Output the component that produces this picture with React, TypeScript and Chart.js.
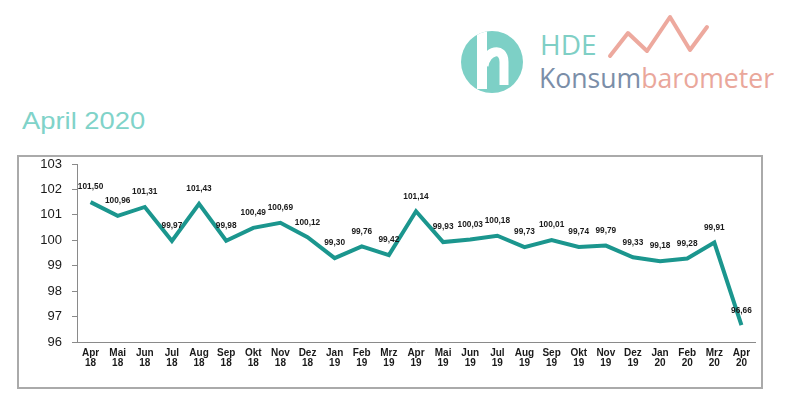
import React, { useEffect, useRef } from "react";
import { Chart, registerables } from "chart.js";

Chart.register(...registerables);

const months = ["Apr", "Mai", "Jun", "Jul", "Aug", "Sep", "Okt", "Nov", "Dez", "Jan", "Feb", "Mrz", "Apr", "Mai", "Jun", "Jul", "Aug", "Sep", "Okt", "Nov", "Dez", "Jan", "Feb", "Mrz", "Apr"];
const years = ["18", "18", "18", "18", "18", "18", "18", "18", "18", "19", "19", "19", "19", "19", "19", "19", "19", "19", "19", "19", "19", "20", "20", "20", "20"];
const values = [101.5, 100.96, 101.31, 99.97, 101.43, 99.98, 100.49, 100.69, 100.12, 99.3, 99.76, 99.42, 101.14, 99.93, 100.03, 100.18, 99.73, 100.01, 99.74, 99.79, 99.33, 99.18, 99.28, 99.91, 96.66];
const yMin = 96;
const yMax = 103;
const yStep = 1;

const fmt = (v: number) => v.toFixed(2).replace(".", ",");

const valueLabelPlugin = {
  id: "valueLabels",
  afterDatasetsDraw(chart: any) {
    const { ctx } = chart;
    const meta = chart.getDatasetMeta(0);
    ctx.save();
    ctx.font = "bold 8.3px 'Liberation Sans', Arial, sans-serif";
    ctx.fillStyle = "#1a1a1a";
    ctx.textAlign = "center";
    ctx.textBaseline = "middle";
    meta.data.forEach((pt: any, i: number) => {
      ctx.fillText(fmt(values[i]), pt.x, pt.y - 15);
    });
    ctx.restore();
  },
};

export default function App() {
  const ref = useRef<HTMLCanvasElement | null>(null);

  useEffect(() => {
    if (!ref.current) return;
    const chart = new Chart(ref.current, {
      type: "line",
      data: {
        labels: months.map((m, i) => [m, years[i]]),
        datasets: [
          {
            data: values,
            borderColor: "#1b968e",
            borderWidth: 4,
            pointRadius: 0,
            tension: 0,
            fill: false,
          },
        ],
      },
      options: {
        animation: false,
        responsive: false,
        layout: { padding: { top: 7, right: 6, left: 0, bottom: 0 } },
        plugins: { legend: { display: false }, tooltip: { enabled: false } },
        scales: {
          x: {
            offset: true,
            grid: { display: true, drawOnChartArea: false, drawTicks: false },
            border: { color: "#8a8a8a", width: 1 },
            ticks: {
              autoSkip: false,
              maxRotation: 0,
              padding: 6,
              color: "#1a1a1a",
              font: { family: "'Liberation Sans', Arial, sans-serif", size: 10, weight: "bold", lineHeight: 1.0 },
            },
            afterFit: (s: any) => {
              s.height = 45;
              s.paddingLeft = 0;
              s.paddingRight = 0;
            },
          },
          y: {
            min: yMin,
            max: yMax,
            ticks: {
              stepSize: yStep,
              padding: 10,
              color: "#1a1a1a",
              font: { family: "'Liberation Sans', Arial, sans-serif", size: 13 },
            },
            grid: { display: true, drawOnChartArea: false, drawTicks: true, tickLength: 5, color: "#8a8a8a" },
            border: { color: "#8a8a8a", width: 1 },
            afterFit: (s: any) => {
              s.width = 58;
              s.paddingTop = 0;
              s.paddingBottom = 0;
            },
          },
        },
      },
      plugins: [valueLabelPlugin],
    });
    return () => chart.destroy();
  }, []);

  return (
    <div style={{ position: "fixed", left: 0, top: 0, width: 800, height: 410, background: "#fff", overflow: "hidden" }}>
      <svg width={800} height={110} style={{ position: "absolute", left: 0, top: 0 }}>
        <defs>
          <clipPath id="hclip">
            <circle cx={492} cy={62} r={31} />
          </clipPath>
        </defs>
        <circle cx={492} cy={62} r={31} fill="#7dd0c6" />
        <g clipPath="url(#hclip)" stroke="#ffffff" fill="none" strokeWidth={10}>
          <path d="M 482 20 L 482 89" />
          <path d="M 484 66 C 486 50, 504 46, 504 62 L 504 85" strokeWidth={9} />
        </g>
        <polyline
          points="610,56 628,33 647,51 670,17 690,50 707,27"
          fill="none"
          stroke="#eda99e"
          strokeWidth={4}
          strokeLinecap="round"
          strokeLinejoin="round"
        />
      </svg>
      <div
        style={{
          position: "absolute",
          left: 540,
          top: 30,
          fontFamily: "'Open Sans', sans-serif",
          fontSize: 28,
          lineHeight: "28px",
          color: "#7fcfc5",
          whiteSpace: "nowrap",
        }}
      >
        HDE
      </div>
      <div
        style={{
          position: "absolute",
          left: 539,
          top: 63,
          fontFamily: "'Open Sans', sans-serif",
          fontSize: 28,
          lineHeight: "28px",
          whiteSpace: "nowrap",
          transform: "scaleX(0.95)",
          transformOrigin: "left top",
        }}
      >
        <span style={{ color: "#7b8ea8" }}>Konsum</span>
        <span style={{ color: "#eaa79b" }}>barometer</span>
      </div>
      <div
        style={{
          position: "absolute",
          left: 22,
          top: 107,
          fontFamily: "'Liberation Sans', Arial, sans-serif",
          fontSize: 24,
          lineHeight: "28px",
          color: "#80d3c9",
          whiteSpace: "nowrap",
          transform: "scaleX(1.14)",
          transformOrigin: "left top",
        }}
      >
        April 2020
      </div>
      <div
        style={{
          position: "absolute",
          left: 17,
          top: 155,
          width: 742,
          height: 230,
          border: "2px solid #aaaaaa",
        }}
      >
        <canvas ref={ref} width={742} height={230} style={{ display: "block" }} />
      </div>
    </div>
  );
}
